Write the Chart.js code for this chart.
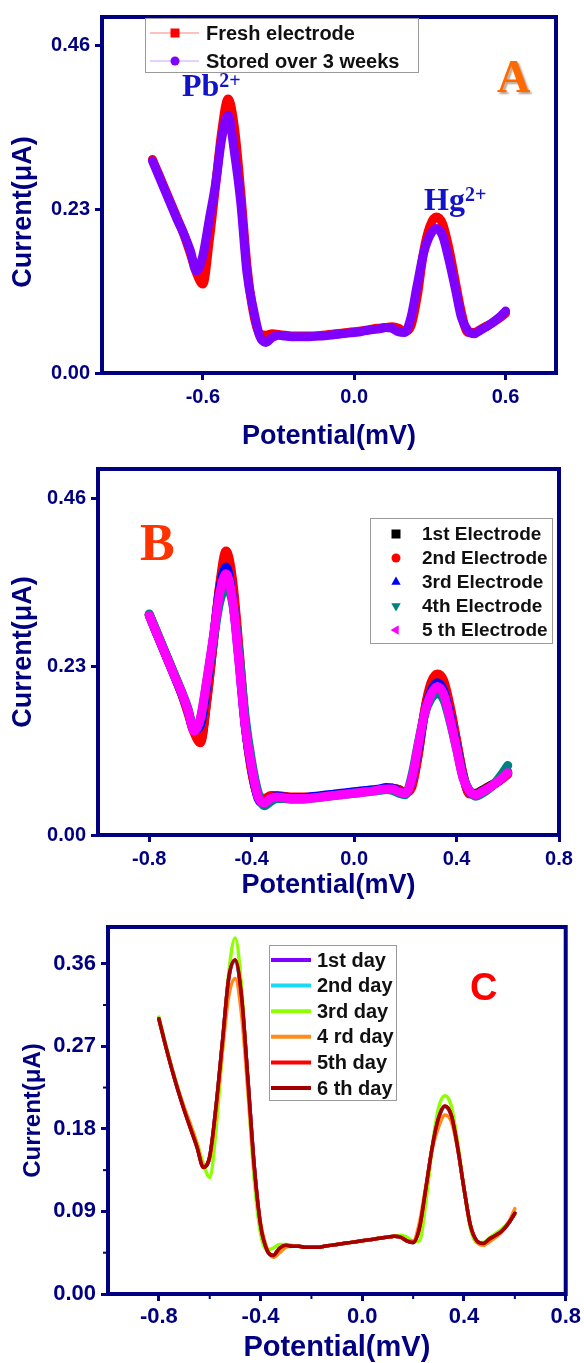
<!DOCTYPE html>
<html>
<head>
<meta charset="utf-8">
<title>Electrode stability</title>
<script src="https://cdn.jsdelivr.net/npm/chart.js@4.4.0/dist/chart.umd.min.js"></script>
<style>
  body { margin: 0; background: #fff; }
  .panel { position: absolute; left: 0; }
</style>
</head>
<body>
<canvas id="chartA" class="panel" width="584" height="452" style="top:0px"></canvas>
<canvas id="chartB" class="panel" width="584" height="448" style="top:452px"></canvas>
<canvas id="chartC" class="panel" width="584" height="463" style="top:900px"></canvas>
<script>
// potential axis shared by every scan (V, step 0.025)
const potential = [
  -0.8, -0.775, -0.75, -0.725, -0.7, -0.675, -0.65, -0.625, -0.6, -0.575,
  -0.55, -0.525, -0.5, -0.475, -0.45, -0.425, -0.4, -0.375, -0.35, -0.325,
  -0.3, -0.275, -0.25, -0.225, -0.2, -0.175, -0.15, -0.125, -0.1, -0.075,
  -0.05, -0.025, 0, 0.025, 0.05, 0.075, 0.1, 0.125, 0.15, 0.175,
  0.2, 0.225, 0.25, 0.275, 0.3, 0.325, 0.35, 0.375, 0.4, 0.425,
  0.45, 0.475, 0.5, 0.525, 0.55, 0.575, 0.6
];

// A: fresh vs stored
const freshA = [
  0.300, 0.279, 0.258, 0.237, 0.216, 0.194, 0.168, 0.140, 0.125, 0.185,
  0.262, 0.340, 0.385, 0.345, 0.255, 0.150, 0.085, 0.055, 0.053, 0.055,
  0.054, 0.053, 0.052, 0.052, 0.052, 0.052, 0.052, 0.053, 0.054, 0.055,
  0.056, 0.057, 0.058, 0.059, 0.060, 0.062, 0.063, 0.064, 0.065, 0.063,
  0.058, 0.066, 0.108, 0.170, 0.206, 0.219, 0.210, 0.176, 0.130, 0.085,
  0.057, 0.057, 0.061, 0.066, 0.071, 0.077, 0.084
];
const storedA = [
  0.298, 0.277, 0.256, 0.235, 0.214, 0.195, 0.172, 0.143, 0.165, 0.215,
  0.265, 0.330, 0.362, 0.310, 0.240, 0.140, 0.090, 0.052, 0.043, 0.050,
  0.053, 0.052, 0.051, 0.051, 0.051, 0.051, 0.052, 0.052, 0.053, 0.054,
  0.055, 0.056, 0.057, 0.058, 0.060, 0.061, 0.062, 0.064, 0.063, 0.058,
  0.057, 0.078, 0.124, 0.168, 0.193, 0.203, 0.193, 0.160, 0.120, 0.078,
  0.060, 0.055, 0.060, 0.065, 0.071, 0.078, 0.087
];

// B: five electrodes
const elec1 = [
  0.301, 0.280, 0.259, 0.238, 0.217, 0.195, 0.170, 0.142, 0.128, 0.185,
  0.262, 0.338, 0.380, 0.342, 0.250, 0.150, 0.088, 0.052, 0.046, 0.052,
  0.053, 0.052, 0.051, 0.051, 0.051, 0.051, 0.052, 0.053, 0.054, 0.055,
  0.056, 0.057, 0.058, 0.059, 0.060, 0.061, 0.062, 0.063, 0.064, 0.062,
  0.058, 0.068, 0.110, 0.168, 0.203, 0.216, 0.207, 0.172, 0.128, 0.083,
  0.057, 0.057, 0.061, 0.066, 0.071, 0.077, 0.084
];
const elec2 = [
  0.300, 0.279, 0.258, 0.237, 0.216, 0.194, 0.168, 0.140, 0.126, 0.183,
  0.262, 0.342, 0.388, 0.350, 0.258, 0.152, 0.086, 0.054, 0.050, 0.054,
  0.054, 0.053, 0.052, 0.052, 0.052, 0.052, 0.052, 0.053, 0.054, 0.055,
  0.056, 0.057, 0.058, 0.059, 0.060, 0.061, 0.062, 0.063, 0.064, 0.062,
  0.058, 0.065, 0.108, 0.170, 0.208, 0.220, 0.211, 0.176, 0.130, 0.084,
  0.056, 0.056, 0.060, 0.065, 0.070, 0.076, 0.083
];
const elec3 = [
  0.301, 0.279, 0.258, 0.237, 0.216, 0.195, 0.172, 0.143, 0.150, 0.205,
  0.268, 0.335, 0.366, 0.325, 0.240, 0.148, 0.092, 0.050, 0.043, 0.050,
  0.053, 0.052, 0.051, 0.051, 0.051, 0.052, 0.053, 0.054, 0.055, 0.056,
  0.057, 0.058, 0.059, 0.060, 0.061, 0.062, 0.063, 0.065, 0.064, 0.060,
  0.057, 0.074, 0.118, 0.165, 0.196, 0.208, 0.197, 0.163, 0.122, 0.080,
  0.060, 0.055, 0.059, 0.064, 0.070, 0.077, 0.086
];
const elec4 = [
  0.302, 0.281, 0.260, 0.239, 0.218, 0.197, 0.174, 0.145, 0.158, 0.210,
  0.265, 0.318, 0.338, 0.318, 0.250, 0.160, 0.100, 0.058, 0.040, 0.046,
  0.050, 0.050, 0.049, 0.049, 0.049, 0.050, 0.051, 0.052, 0.053, 0.054,
  0.055, 0.056, 0.057, 0.058, 0.059, 0.060, 0.061, 0.062, 0.061, 0.057,
  0.055, 0.080, 0.124, 0.165, 0.186, 0.193, 0.185, 0.155, 0.118, 0.080,
  0.061, 0.053, 0.057, 0.063, 0.071, 0.082, 0.095
];
const elec5 = [
  0.300, 0.279, 0.258, 0.237, 0.216, 0.196, 0.172, 0.142, 0.160, 0.212,
  0.270, 0.330, 0.357, 0.322, 0.238, 0.148, 0.093, 0.052, 0.044, 0.050,
  0.052, 0.051, 0.050, 0.050, 0.050, 0.050, 0.051, 0.052, 0.053, 0.054,
  0.055, 0.056, 0.057, 0.058, 0.059, 0.060, 0.062, 0.063, 0.063, 0.059,
  0.057, 0.076, 0.122, 0.166, 0.192, 0.203, 0.192, 0.158, 0.118, 0.078,
  0.060, 0.055, 0.059, 0.064, 0.070, 0.077, 0.085
];

// C: six days
const day1 = [
  0.301, 0.273, 0.247, 0.223, 0.201, 0.181, 0.161, 0.139, 0.149, 0.204,
  0.274, 0.344, 0.363, 0.324, 0.234, 0.140, 0.075, 0.048, 0.042, 0.050,
  0.053, 0.052, 0.052, 0.051, 0.051, 0.051, 0.052, 0.053, 0.054, 0.055,
  0.056, 0.057, 0.058, 0.059, 0.060, 0.061, 0.062, 0.063, 0.062, 0.058,
  0.056, 0.072, 0.114, 0.159, 0.191, 0.204, 0.194, 0.159, 0.115, 0.075,
  0.058, 0.055, 0.060, 0.064, 0.069, 0.077, 0.088
];
const day2 = [
  0.300, 0.272, 0.246, 0.222, 0.201, 0.181, 0.160, 0.139, 0.150, 0.205,
  0.275, 0.344, 0.363, 0.325, 0.235, 0.140, 0.075, 0.048, 0.042, 0.050,
  0.053, 0.052, 0.052, 0.051, 0.051, 0.051, 0.052, 0.053, 0.054, 0.055,
  0.056, 0.057, 0.058, 0.059, 0.060, 0.061, 0.062, 0.063, 0.062, 0.058,
  0.056, 0.072, 0.115, 0.160, 0.191, 0.204, 0.195, 0.160, 0.115, 0.075,
  0.058, 0.055, 0.060, 0.064, 0.069, 0.077, 0.088
];
const day3 = [
  0.302, 0.274, 0.248, 0.224, 0.203, 0.184, 0.165, 0.142, 0.127, 0.180,
  0.265, 0.350, 0.388, 0.335, 0.225, 0.125, 0.066, 0.048, 0.050, 0.054,
  0.054, 0.053, 0.052, 0.051, 0.051, 0.051, 0.052, 0.053, 0.054, 0.055,
  0.056, 0.057, 0.058, 0.059, 0.060, 0.061, 0.062, 0.063, 0.064, 0.062,
  0.057, 0.058, 0.100, 0.160, 0.203, 0.216, 0.205, 0.165, 0.115, 0.072,
  0.056, 0.056, 0.061, 0.066, 0.071, 0.078, 0.087
];
const day4 = [
  0.299, 0.272, 0.247, 0.224, 0.203, 0.184, 0.163, 0.140, 0.148, 0.200,
  0.265, 0.325, 0.344, 0.305, 0.222, 0.135, 0.078, 0.050, 0.040, 0.045,
  0.051, 0.052, 0.052, 0.051, 0.051, 0.051, 0.052, 0.053, 0.054, 0.055,
  0.056, 0.057, 0.058, 0.059, 0.060, 0.061, 0.062, 0.063, 0.062, 0.058,
  0.058, 0.078, 0.118, 0.158, 0.182, 0.195, 0.188, 0.158, 0.115, 0.076,
  0.057, 0.053, 0.057, 0.062, 0.068, 0.078, 0.093
];
const day5 = [
  0.300, 0.272, 0.246, 0.222, 0.200, 0.180, 0.160, 0.138, 0.150, 0.205,
  0.275, 0.345, 0.364, 0.325, 0.235, 0.140, 0.075, 0.048, 0.042, 0.050,
  0.053, 0.052, 0.052, 0.051, 0.051, 0.051, 0.052, 0.053, 0.054, 0.055,
  0.056, 0.057, 0.058, 0.059, 0.060, 0.061, 0.062, 0.063, 0.062, 0.058,
  0.056, 0.072, 0.115, 0.160, 0.192, 0.205, 0.195, 0.160, 0.115, 0.075,
  0.058, 0.055, 0.060, 0.064, 0.069, 0.077, 0.088
];
const day6 = [
  0.300, 0.272, 0.246, 0.222, 0.200, 0.180, 0.160, 0.138, 0.150, 0.205,
  0.275, 0.345, 0.364, 0.325, 0.235, 0.140, 0.075, 0.048, 0.042, 0.050,
  0.053, 0.052, 0.052, 0.051, 0.051, 0.051, 0.052, 0.053, 0.054, 0.055,
  0.056, 0.057, 0.058, 0.059, 0.060, 0.061, 0.062, 0.063, 0.062, 0.058,
  0.056, 0.072, 0.115, 0.160, 0.192, 0.205, 0.195, 0.160, 0.115, 0.075,
  0.058, 0.055, 0.060, 0.064, 0.069, 0.077, 0.088
];

// tick positions
const xTicksA = [-0.6, 0.0, 0.6];
const xTicksBC = [-0.8, -0.4, 0.0, 0.4, 0.8];
const yTicksAB = [0, 0.23, 0.46];
const yTicksC = [0, 0.09, 0.18, 0.27, 0.36];
const minorXC = [-0.6, -0.2, 0.2, 0.6];
const minorYC = [0.045, 0.135, 0.225, 0.315];

const NAVY = "#000080";
const SANS = "'Liberation Sans', Arial, sans-serif";
const SERIF = "'Liberation Serif', 'Times New Roman', serif";

function pts(ys) {
  return potential.map((x, i) => ({ x, y: ys[i] }));
}

function drawMarker(ctx, style, x, y, r, rot) {
  ctx.beginPath();
  if (style === "rect") {
    ctx.rect(x - r, y - r, 2 * r, 2 * r);
  } else if (style === "circle") {
    ctx.arc(x, y, r, 0, Math.PI * 2);
  } else {
    const a = (rot || 0) * Math.PI / 180;
    for (let k = 0; k < 3; k++) {
      const t = a - Math.PI / 2 + k * 2 * Math.PI / 3;
      const px = x + r * 1.2 * Math.cos(t), py = y + r * 1.2 * Math.sin(t);
      k === 0 ? ctx.moveTo(px, py) : ctx.lineTo(px, py);
    }
    ctx.closePath();
  }
  ctx.fill();
}

// box frame + optional minor ticks
const framePlugin = {
  id: "frame",
  afterDatasetsDraw(chart, args, opts) {
    const { ctx, chartArea: a, scales } = chart;
    ctx.save();
    ctx.strokeStyle = NAVY;
    ctx.lineWidth = 4;
    ctx.strokeRect(a.left, a.top, a.right - a.left, a.bottom - a.top);
    ctx.lineWidth = 2;
    (opts.minorX || []).forEach(v => {
      const px = scales.x.getPixelForValue(v);
      ctx.beginPath(); ctx.moveTo(px, a.bottom); ctx.lineTo(px, a.bottom + 5); ctx.stroke();
    });
    (opts.minorY || []).forEach(v => {
      const py = scales.y.getPixelForValue(v);
      ctx.beginPath(); ctx.moveTo(a.left, py); ctx.lineTo(a.left - 5, py); ctx.stroke();
    });
    ctx.restore();
  }
};

// boxed legend inside the plot
const legendPlugin = {
  id: "legendBox",
  afterDatasetsDraw(chart, args, o) {
    const ctx = chart.ctx;
    ctx.save();
    ctx.fillStyle = "#fff";
    ctx.fillRect(o.x, o.y, o.w, o.h);
    ctx.strokeStyle = "#9a9a9a";
    ctx.lineWidth = 1;
    ctx.strokeRect(o.x + 0.5, o.y + 0.5, o.w, o.h);
    ctx.font = `bold ${o.size}px ${SANS}`;
    ctx.textBaseline = "middle";
    chart.data.datasets.forEach((ds, i) => {
      const cy = o.y + o.first + i * o.step;
      if (o.line) {
        ctx.strokeStyle = ds.sampleColor || ds.borderColor;
        ctx.lineWidth = o.line.width;
        ctx.beginPath();
        ctx.moveTo(o.line.x1, cy);
        ctx.lineTo(o.line.x2, cy);
        ctx.stroke();
      }
      if (o.markerX) {
        ctx.fillStyle = ds.borderColor;
        drawMarker(ctx, ds.marker, o.markerX, cy, o.markerR, ds.markerRot);
      }
      ctx.fillStyle = "#111";
      ctx.fillText(ds.label, o.textX, cy + 1);
    });
    ctx.restore();
  }
};

// panel letters, ion labels and a shifted axis title
const notesPlugin = {
  id: "notes",
  afterDatasetsDraw(chart, args, o) {
    const ctx = chart.ctx;
    (o.items || []).forEach(n => {
      ctx.save();
      ctx.fillStyle = n.color;
      if (n.shadow) {
        ctx.shadowColor = "rgba(90,40,0,0.45)";
        ctx.shadowOffsetX = 2;
        ctx.shadowOffsetY = 2;
        ctx.shadowBlur = 2;
      }
      ctx.font = `bold ${n.size}px ${n.family}`;
      if (n.rotate) {
        ctx.translate(n.x, n.y);
        ctx.rotate(n.rotate * Math.PI / 180);
        ctx.textAlign = "center";
        ctx.textBaseline = "middle";
        ctx.fillText(n.text, 0, 0);
      } else {
        ctx.textBaseline = "alphabetic";
        ctx.fillText(n.text, n.x, n.y);
        if (n.sup) {
          const w = ctx.measureText(n.text).width;
          ctx.font = `bold ${n.supSize}px ${n.family}`;
          ctx.fillText(n.sup, n.x + w, n.y - n.raise);
        }
      }
      ctx.restore();
    });
  }
};

function axes(o) {
  return {
    x: {
      type: "linear",
      min: -1.0,
      max: 0.8,
      afterBuildTicks: axis => { axis.ticks = o.xTicks.map(v => ({ value: v })); },
      afterFit: axis => { axis.height = o.xHeight; },
      grid: { drawOnChartArea: false, tickLength: 7, tickWidth: 3, tickColor: NAVY },
      border: { display: false },
      ticks: {
        color: NAVY, padding: o.xPad, maxRotation: 0, autoSkip: false,
        font: { family: SANS, size: o.tickSize, weight: "bold" },
        callback: v => Number(v).toFixed(1)
      },
      title: {
        display: true, text: "Potential(mV)", color: NAVY,
        font: { family: SANS, size: o.xTitleSize, weight: "bold", lineHeight: 1 },
        padding: { top: 0, bottom: o.xTitlePad }
      }
    },
    y: {
      type: "linear",
      min: 0,
      max: o.yMax,
      afterBuildTicks: axis => { axis.ticks = o.yTicks.map(v => ({ value: v })); },
      afterFit: axis => { axis.width = o.yWidth; },
      grid: { drawOnChartArea: false, tickLength: 7, tickWidth: 3, tickColor: NAVY },
      border: { display: false },
      ticks: {
        color: NAVY, padding: 5, autoSkip: false,
        font: { family: SANS, size: o.tickSize, weight: "bold" },
        callback: v => Number(v).toFixed(2)
      },
      title: {
        display: !o.yTitleManual, text: "Current(μA)", color: NAVY,
        font: { family: SANS, size: o.yTitleSize, weight: "bold", lineHeight: 1 },
        padding: { top: o.yTitlePad, bottom: 0 }
      }
    }
  };
}

function makeChart(id, datasets, o) {
  const n = datasets.length;
  datasets.forEach((ds, i) => {
    ds.order = n - i;
    ds.cubicInterpolationMode = "monotone";
    ds.pointRadius = 0;
    ds.borderJoinStyle = "round";
    ds.borderCapStyle = "round";
    ds.fill = false;
  });
  return new Chart(document.getElementById(id), {
    type: "line",
    data: { datasets },
    options: {
      responsive: false,
      animation: false,
      devicePixelRatio: 1,
      layout: { padding: o.padding },
      scales: axes(o),
      plugins: {
        legend: { display: false },
        tooltip: { enabled: false },
        frame: { minorX: o.minorX, minorY: o.minorY },
        legendBox: o.legend,
        notes: { items: o.notes }
      }
    },
    plugins: [framePlugin, legendPlugin, notesPlugin]
  });
}

document.addEventListener("DOMContentLoaded", () => {
  makeChart("chartA", [
    { label: "Fresh electrode", data: pts(freshA), borderColor: "#FF0000", sampleColor: "#FF8080", borderWidth: 9, marker: "rect" },
    { label: "Stored over 3 weeks", data: pts(storedA), borderColor: "#7F00FF", sampleColor: "#C9A3FF", borderWidth: 9, marker: "circle" }
  ], {
    padding: { top: 13, right: 28, left: 0, bottom: 0 },
    xTicks: xTicksA, yTicks: yTicksAB, yMax: 0.5,
    xHeight: 79, yWidth: 102, xPad: 5, tickSize: 20,
    xTitleSize: 27, xTitlePad: 2, yTitleSize: 27, yTitlePad: 10,
    yTitleManual: true,
    legend: { x: 145, y: 18, w: 273, h: 54, first: 15, step: 28, size: 20,
      line: { x1: 150, x2: 199, width: 1 }, markerX: 175, markerR: 4.5, textX: 206 },
    notes: [
      { text: "Current(μA)", x: 24, y: 212, rotate: -90, size: 27, family: SANS, color: NAVY },
      { text: "Pb", sup: "2+", x: 182, y: 96, size: 32, supSize: 20, raise: 9, family: SERIF, color: "#1212C8" },
      { text: "Hg", sup: "2+", x: 424, y: 210, size: 32, supSize: 20, raise: 9, family: SERIF, color: "#1212C8" },
      { text: "A", x: 497, y: 92, size: 46, family: SERIF, color: "#FF6A00", shadow: true }
    ]
  });

  makeChart("chartB", [
    { label: "1st Electrode", data: pts(elec1), borderColor: "#000000", borderWidth: 9, marker: "rect" },
    { label: "2nd Electrode", data: pts(elec2), borderColor: "#FF0000", borderWidth: 9, marker: "circle" },
    { label: "3rd Electrode", data: pts(elec3), borderColor: "#0000FF", borderWidth: 9, marker: "triangle", markerRot: 0 },
    { label: "4th Electrode", data: pts(elec4), borderColor: "#008080", borderWidth: 9, marker: "triangle", markerRot: 180 },
    { label: "5 th Electrode", data: pts(elec5), borderColor: "#FF00FF", borderWidth: 9, marker: "triangle", markerRot: -90 }
  ], {
    padding: { top: 16, right: 25, left: 0, bottom: 0 },
    xTicks: xTicksBC, yTicks: yTicksAB, yMax: 0.5,
    xHeight: 65, yWidth: 98, xPad: 5, tickSize: 20,
    xTitleSize: 27, xTitlePad: 1, yTitleSize: 27, yTitlePad: 10,
    legend: { x: 370, y: 66, w: 182, h: 125, first: 16, step: 24, size: 19,
      markerX: 396, markerR: 4.5, textX: 422 },
    notes: [
      { text: "B", x: 140, y: 108, size: 52, family: SERIF, color: "#FF3300" }
    ]
  });

  makeChart("chartC", [
    { label: "1st day", data: pts(day1), borderColor: "#8000FF", borderWidth: 3.5 },
    { label: "2nd day", data: pts(day2), borderColor: "#19D9F7", borderWidth: 3.5 },
    { label: "3rd day", data: pts(day3), borderColor: "#8CFF00", borderWidth: 3.5 },
    { label: "4 rd day", data: pts(day4), borderColor: "#FF8C1A", borderWidth: 3.5 },
    { label: "5th day", data: pts(day5), borderColor: "#FF0000", borderWidth: 3.5 },
    { label: "6 th day", data: pts(day6), borderColor: "#A50000", borderWidth: 3.5 }
  ], {
    padding: { top: 27, right: 18, left: 0, bottom: 0 },
    xTicks: xTicksBC, yTicks: yTicksC, yMax: 0.4,
    xHeight: 69, yWidth: 108, xPad: 3, tickSize: 22,
    xTitleSize: 29, xTitlePad: 1, yTitleSize: 24, yTitlePad: 21,
    minorX: minorXC, minorY: minorYC,
    legend: { x: 269, y: 45, w: 127, h: 155, first: 15, step: 25.6, size: 20,
      line: { x1: 271, x2: 311, width: 4 }, textX: 317 },
    notes: [
      { text: "C", x: 470, y: 100, size: 38, family: SANS, color: "#FF0000" }
    ]
  });
});
</script>
</body>
</html>
